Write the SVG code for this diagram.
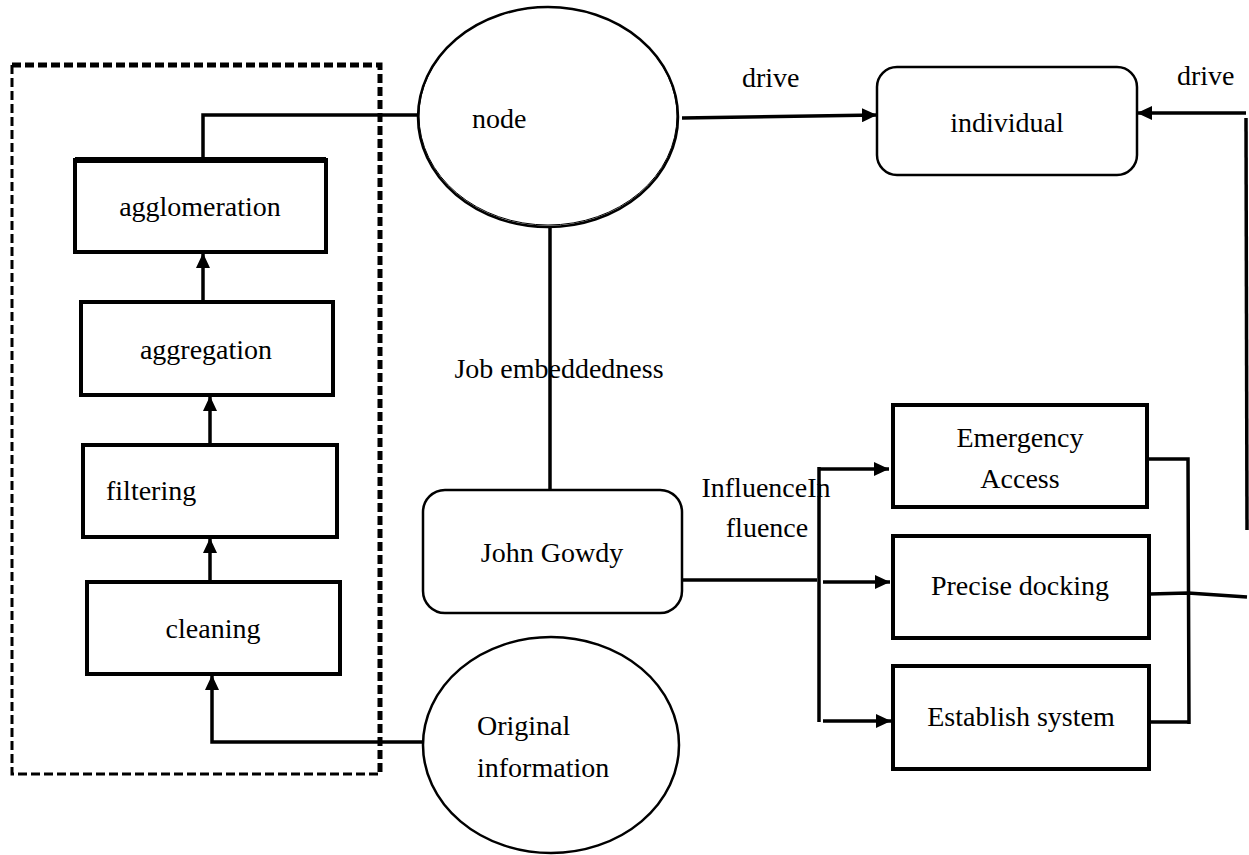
<svg xmlns="http://www.w3.org/2000/svg" width="1249" height="855" viewBox="0 0 1249 855">
<style>
text{font-family:"Liberation Serif","Times New Roman","DejaVu Serif",serif;font-size:28px;fill:#000}
.box{fill:#fff;stroke:#000;stroke-width:4}
.rbox{fill:#fff;stroke:#000;stroke-width:2.5}
.ell{fill:#fff;stroke:#000;stroke-width:2.5}
.c{fill:none;stroke:#000;stroke-width:3.5}
.arr{marker-end:url(#ah)}
.m{text-anchor:middle}
</style>
<defs>
<marker id="ah" markerUnits="userSpaceOnUse" markerWidth="15" markerHeight="14" viewBox="0 0 15 14" refX="15" refY="7" orient="auto">
<path d="M0,0 L15,7 L0,14 z" fill="#000"/>
</marker>
</defs>
<rect width="1249" height="855" fill="#fff"/>
<g id="group-frame">
<path d="M12,65 L12,774 L380,774" fill="none" stroke="#000" stroke-width="3" stroke-dasharray="9,4"/>
<path d="M12,65 L380,65 L380,774" fill="none" stroke="#000" stroke-width="5" stroke-dasharray="9,4"/>
</g>
<g id="connectors">
<path class="c" d="M203,160 L203,115 L418,115"/>
<path class="c arr" d="M203,302 L203,253"/>
<path class="c arr" d="M210,445 L210,396"/>
<path class="c arr" d="M210,582 L210,538"/>
<path class="c arr" d="M423,742 L212,742 L212,675"/>
<path class="c arr" d="M682,118 L877,115"/>
<path class="c arr" d="M1246,113 L1137,113"/>
<path class="c" d="M1246,118 L1247,530"/>
<path class="c" d="M550,227 L550,490"/>
<path class="c" d="M679,580 L817,580"/>
<path class="c arr" d="M823,582 L890,582"/>
<path class="c" d="M819,467 L819,722"/>
<path class="c arr" d="M819,469 L889,469"/>
<path class="c arr" d="M823,721 L891,721"/>
<path class="c" d="M1147,459 L1188,459 L1189,724"/>
<path class="c" d="M1150,722 L1189,722"/>
<path class="c" d="M1150,594 L1188,593 L1247,597"/>
</g>
<g id="node-agglomeration">
<rect class="box" x="75" y="160" width="251" height="92"/>
<line x1="75" y1="160" x2="326" y2="160" stroke="#000" stroke-width="6"/>
<text class="m" x="200" y="216">agglomeration</text>
</g>
<g id="node-aggregation">
<rect class="box" x="81" y="302" width="252" height="93"/>
<text class="m" x="206" y="359">aggregation</text>
</g>
<g id="node-filtering">
<rect class="box" x="83" y="445" width="254" height="92"/>
<text x="106" y="500">filtering</text>
</g>
<g id="node-cleaning">
<rect class="box" x="87" y="582" width="253" height="92"/>
<text class="m" x="213" y="638">cleaning</text>
</g>
<g id="node-node">
<ellipse class="ell" cx="548" cy="117" rx="130" ry="110"/>
<ellipse cx="548" cy="116" rx="129" ry="109" fill="none" stroke="#000" stroke-width="1"/>
<text x="472" y="128">node</text>
</g>
<g id="node-individual">
<rect class="rbox" x="877" y="67" width="260" height="108" rx="20"/>
<text class="m" x="1007" y="132">individual</text>
</g>
<g id="node-john-gowdy">
<rect class="rbox" x="423" y="490" width="259" height="123" rx="22"/>
<text class="m" x="552" y="562">John Gowdy</text>
</g>
<g id="node-original-information">
<ellipse class="ell" cx="551" cy="745" rx="128" ry="108"/>
<text x="477" y="735">Original</text>
<text x="477" y="777">information</text>
</g>
<g id="node-emergency-access">
<rect class="box" x="893" y="405" width="254" height="102"/>
<text class="m" x="1020" y="447">Emergency</text>
<text class="m" x="1020" y="488">Access</text>
</g>
<g id="node-precise-docking">
<rect class="box" x="893" y="536" width="256" height="102"/>
<text class="m" x="1020" y="595">Precise docking</text>
</g>
<g id="node-establish-system">
<rect class="box" x="893" y="666" width="256" height="103"/>
<text class="m" x="1021" y="726">Establish system</text>
</g>
<g id="labels">
<text x="742" y="87">drive</text>
<text x="1177" y="85">drive</text>
<text class="m" x="559" y="378">Job embeddedness</text>
<text class="m" x="766" y="497">InfluenceIn</text>
<text class="m" x="767" y="537">fluence</text>
</g>
</svg>
